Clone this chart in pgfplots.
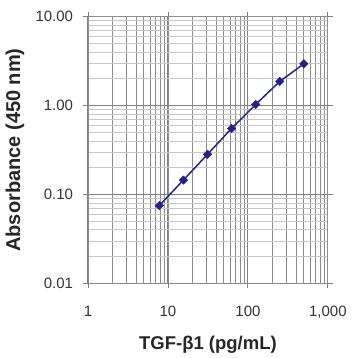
\documentclass[border=0pt]{standalone}
\usepackage{pgfplots}
\pgfplotsset{compat=1.18}
\usepackage{fontspec}
\setmainfont{Liberation Sans}
\definecolor{lineblue}{RGB}{35,35,140}
\begin{document}
\begin{tikzpicture}
\begin{axis}[name=ax,
  scale only axis, width=240pt, height=266.7pt,
  xmode=log, ymode=log,
  xmin=1, xmax=1000, ymin=0.01, ymax=10,
  grid=both,
  major x grid style={black!50, line width=1pt},
  minor x grid style={black!45, line width=0.9pt},
  major y grid style={black!50, line width=1pt},
  minor y grid style={black!22, line width=0.8pt},
  axis line style={black!45, line width=0.9pt},
  tick style={black!50, line width=0.9pt},
  tick align=outside,
  major tick length=5pt, minor tick length=0pt,
  xtick={1,10,100,1000}, xticklabels={1,10,100,{1,000}},
  ytick={0.01,0.1,1,10}, yticklabels={0.01,0.10,1.00,10.00},
  tick label style={font=\fontsize{15}{17}\selectfont, text=black!80, inner sep=0pt},
  xticklabel style={anchor=base, yshift=-27.7pt},
  yticklabel style={anchor=east, xshift=-14.7pt+5pt},
  xlabel={\textbf{TGF-β1 (pg/mL)}},
  ylabel={\textbf{Absorbance (450 nm)}},
  xlabel style={font=\fontsize{18.5}{20}\selectfont, text=black!85, at={(axis description cs:0.5,-0.25)}, anchor=base},
  ylabel style={font=\fontsize{20}{22}\selectfont, text=black!85, at={(axis description cs:-0.304,0.5)}, anchor=center},
  clip=false,
]
\addplot[lineblue, line width=1.5pt, mark=square*, mark size=3pt, mark options={fill=lineblue, line width=0.4pt, rotate=45}]
coordinates {(7.8,0.075)(15.6,0.145)(31.25,0.283)(62.5,0.553)(125,1.03)(250,1.87)(500,2.95)};
\end{axis}
\path[use as bounding box] ([xshift=-88pt,yshift=-74.7pt]ax.south west) rectangle ([xshift=30pt,yshift=16.7pt]ax.north east);
\end{tikzpicture}
\end{document}
